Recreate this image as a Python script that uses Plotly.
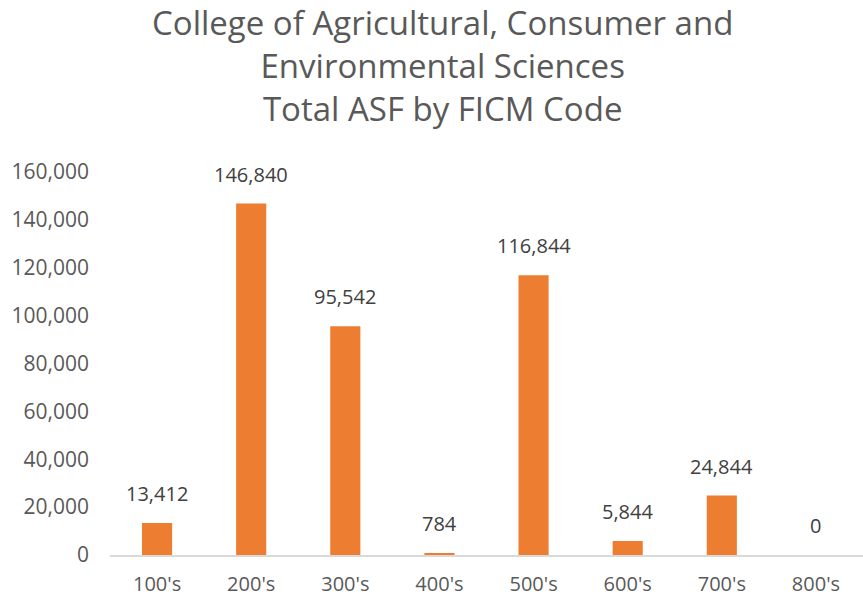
import plotly.graph_objects as go

# FICM code groups and their total assignable square feet
categories = ["100's", "200's", "300's", "400's", "500's", "600's", "700's", "800's"]
asf_values = [13412, 146840, 95542, 784, 116844, 5844, 24844, 0]
y_ticks = [0, 20000, 40000, 60000, 80000, 100000, 120000, 140000, 160000]

TEXT_GREY = "#595959"
FONT = "Open Sans"

fig = go.Figure(go.Bar(
    x=categories,
    y=asf_values,
    marker=dict(color="#ED7D31", line=dict(width=0)),
    hovertemplate="%{x}: %{y:,}<extra></extra>",
))

# value labels above each bar
for cat, val in zip(categories, asf_values):
    fig.add_annotation(
        x=cat, y=val, text=f"{val:,}", showarrow=False,
        yanchor="bottom", yshift=14,
        font=dict(family=FONT, size=20, color="#404040"),
    )

# three-line title, placed as an annotation so it can sit high in the margin
fig.add_annotation(
    text="College of Agricultural, Consumer and<br>Environmental Sciences<br>Total ASF by FICM Code",
    xref="paper", yref="paper", x=0.442, y=1.455,
    xanchor="center", yanchor="top", showarrow=False,
    font=dict(family=FONT, size=33, color=TEXT_GREY),
)

fig.update_layout(
    width=863, height=600,
    margin=dict(l=110, r=0, t=172, b=45),
    paper_bgcolor="white", plot_bgcolor="white",
    bargap=0.68,
    showlegend=False,
    font=dict(family=FONT, size=20, color=TEXT_GREY),
)

fig.update_xaxes(
    showgrid=False, showline=True, linecolor="#d9d9d9", linewidth=2,
    ticks="", ticklabelstandoff=10, tickfont=dict(size=20, color=TEXT_GREY),
)
fig.update_yaxes(
    range=[0, 160000], tickvals=y_ticks, tickformat=",",
    showgrid=False, zeroline=False, showline=False, ticks="",
    ticklabelstandoff=20, tickfont=dict(size=21, color=TEXT_GREY),
)

fig.write_html(
    "out.html",
    config={"displayModeBar": False},
    post_script="document.body.style.margin='0';",
)
